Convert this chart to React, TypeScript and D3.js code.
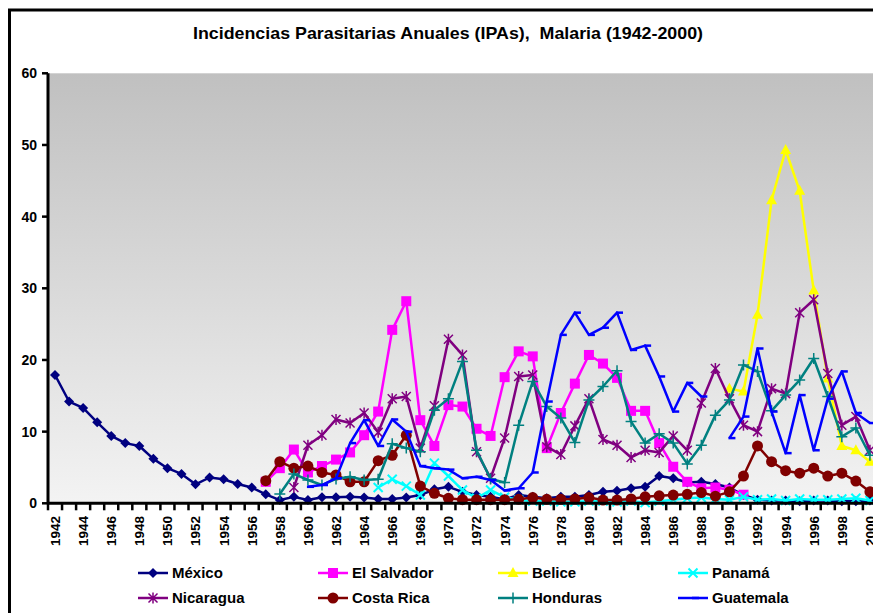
import React from 'react';
import * as d3 from 'd3';

// categories
const years = [
  1942, 1943, 1944, 1945, 1946, 1947, 1948, 1949, 1950, 1951, 1952, 1953, 1954, 1955, 1956,
  1957, 1958, 1959, 1960, 1961, 1962, 1963, 1964, 1965, 1966, 1967, 1968, 1969, 1970, 1971,
  1972, 1973, 1974, 1975, 1976, 1977, 1978, 1979, 1980, 1981, 1982, 1983, 1984, 1985, 1986,
  1987, 1988, 1989, 1990, 1991, 1992, 1993, 1994, 1995, 1996, 1997, 1998, 1999, 2000,
];
const yTicks = [0, 10, 20, 30, 40, 50, 60];

// each series: first year + values (null = no data)
const mexicoStart = 1942;
const mexico = [
  17.9, 14.2, 13.3, 11.3, 9.4, 8.4, 8.0, 6.2, 4.9, 4.1, 2.65, 3.6, 3.35, 2.7, 2.2, 1.25,
  0.45, 0.9, 0.45, 0.85, 0.85, 0.9, 0.8, 0.6, 0.6, 0.8, 1.15, 1.95, 2.3, 1.6, 1.15, 0.9,
  0.55, 1.15, 0.9, 0.7, 0.9, 0.9, 1.15, 1.6, 1.75, 2.1, 2.3, 3.8, 3.5, 2.9, 3.0, 2.7, 2.2,
  1.15, 0.5, 0.4, 0.4, 0.3, 0.4, 0.4, 0.3, 0.3, 0.4,
];
const elSalvadorStart = 1957;
const elSalvador = [
  3.0, 4.9, 7.5, 4.3, 5.2, 6.1, 7.1, 9.5, 12.8, 24.2, 28.2, 11.6, 8.0, 13.7, 13.5, 10.4,
  9.4, 17.6, 21.2, 20.5, 7.7, 12.6, 16.7, 20.7, 19.5, 17.5, 12.9, 12.9, 8.4, 5.1, 3.0, 2.1,
  2.2, 1.9, 1.2,
];
const beliceStart = 1990;
const belice = [16.0, 15.6, 26.3, 42.3, 49.3, 43.6, 29.7, 17.4, 8.0, 7.4, 5.8];
const panamaStart = 1965;
const panama = [
  2.2, 3.35, 2.4, 1.15, 5.6, 3.8, 1.85, 0.7, 1.85, 0.85, 0.5, 0.3, 0.3, 0.2, 0.2, 0.3, 0.3,
  0.2, 0.3, 0.1, 0.3, 0.5, 0.7, 0.8, 0.6, 0.5, 0.9, 0.5, 0.6, 0.4, 0.6, 0.5, 0.5, 0.6, 0.7, 0.4,
];
const nicaraguaStart = 1959;
const nicaragua = [
  2.2, 8.1, 9.5, 11.7, 11.2, 12.6, 9.9, 14.6, 14.9, 7.7, 13.6, 22.9, 20.7, 7.2, 3.5, 9.1,
  17.7, 17.9, 7.9, 6.8, 10.8, 14.6, 8.9, 8.1, 6.4, 7.4, 7.1, 9.4, 7.4, 14.0, 18.8, 14.6,
  10.9, 10.0, 16.0, 15.3, 26.6, 28.4, 18.1, 10.9, 12.1, 7.4,
];
const costaRicaStart = 1957;
const costaRica = [
  3.15, 5.8, 4.9, 5.2, 4.3, 3.95, 3.0, 3.0, 5.95, 6.7, 9.5, 2.4, 1.4, 0.7, 0.5, 0.5, 0.5,
  0.5, 0.55, 0.8, 0.55, 0.55, 0.6, 0.8, 0.45, 0.45, 0.6, 0.9, 1.05, 1.15, 1.25, 1.5, 1.0,
  1.6, 3.8, 8.0, 5.8, 4.55, 4.2, 4.9, 3.8, 4.2, 3.1, 1.6,
];
const hondurasStart = 1958;
const honduras = [
  1.3, 4.1, 3.25, 2.55, 3.4, 3.7, 3.25, 3.35, 8.3, 7.7, 7.2, 13.0, 14.6, 19.8, 7.4, 3.4,
  2.9, 10.9, 17.0, 13.5, 11.9, 8.5, 14.4, 16.3, 18.5, 11.4, 8.4, 9.7, 8.4, 5.5, 8.1, 12.3,
  14.4, 19.3, 18.4, 12.9, 15.1, 17.2, 20.2, 14.9, 9.3, 10.5, 6.7,
];
const guatemalaStart = 1960;
const guatemala = [
  2.3, 2.55, 3.5, 8.4, 11.6, 8.0, 11.7, 10.0, 5.2, 4.9, 4.7, 3.5, 3.7, 3.25, 1.8, 2.1, 4.3,
  14.2, 23.5, 26.6, 23.5, 24.5, 26.6, 21.4, 22.0, 17.7, 12.8, 16.8, 14.9, null, 9.1, 12.1,
  21.6, 12.8, 7.0, 15.1, 7.4, 14.6, 18.4, 12.6, 11.2,
];

const series = [
  { name: 'México', color: '#000080', marker: 'diamond', start: mexicoStart, values: mexico },
  { name: 'El Salvador', color: '#FF00FF', marker: 'square', start: elSalvadorStart, values: elSalvador },
  { name: 'Belice', color: '#FFFF00', marker: 'triangle', start: beliceStart, values: belice },
  { name: 'Panamá', color: '#00FFFF', marker: 'x', start: panamaStart, values: panama },
  { name: 'Nicaragua', color: '#800080', marker: 'star', start: nicaraguaStart, values: nicaragua },
  { name: 'Costa Rica', color: '#800000', marker: 'circle', start: costaRicaStart, values: costaRica },
  { name: 'Honduras', color: '#008080', marker: 'plus', start: hondurasStart, values: honduras },
  { name: 'Guatemala', color: '#0000FF', marker: 'dash', start: guatemalaStart, values: guatemala },
];

const font = '"Liberation Sans", Arial, sans-serif';

function Marker({ type, cx, cy, color }: { type: string; cx: number; cy: number; color: string }) {
  const t = `translate(${cx},${cy})`;
  switch (type) {
    case 'diamond':
      return <path transform={t} d="M0,-5L5,0L0,5L-5,0Z" fill={color} />;
    case 'square':
      return <rect transform={t} x={-5} y={-5} width={10} height={10} fill={color} />;
    case 'triangle':
      return <path transform={t} d="M0,-6L5.5,4L-5.5,4Z" fill={color} />;
    case 'x':
      return <path transform={t} d="M-4.5,-4.5L4.5,4.5M-4.5,4.5L4.5,-4.5" stroke={color} strokeWidth={2} />;
    case 'star':
      return <path transform={t} d="M-4.5,-4.5L4.5,4.5M-4.5,4.5L4.5,-4.5M0,-5.5L0,5.5" stroke={color} strokeWidth={1.5} />;
    case 'circle':
      return <circle cx={cx} cy={cy} r={5.5} fill={color} />;
    case 'plus':
      return <path transform={t} d="M-5.5,0L5.5,0M0,-5.5L0,5.5" stroke={color} strokeWidth={1.5} />;
    case 'dash':
      return <path transform={t} d="M-1,0L6,0" stroke={color} strokeWidth={2.5} />;
    default:
      return null;
  }
}

export default function App() {
  const W = 873;
  const H = 613;
  const left = 48;
  const top = 73.3;
  const bottom = 503.3;
  const step = 14.05;

  const x = d3.scalePoint<number>().domain(years).range([left, left + years.length * step]).padding(0.5);
  const y = d3.scaleLinear().domain([0, 60]).range([bottom, top]);

  const line = d3
    .line<{ year: number; v: number | null }>()
    .defined((d) => d.v != null)
    .x((d) => x(d.year) as number)
    .y((d) => y(d.v as number));

  const legendX = [138, 318, 498, 678];
  const legendY = [573, 598];

  return (
    <svg width={W} height={H} style={{ position: 'absolute', left: 0, top: 0 }} fontFamily={font}>
      <defs>
        <linearGradient id="bg" x1="0" y1="0" x2="0" y2="1">
          <stop offset="0" stopColor="#c0c0c0" />
          <stop offset="1" stopColor="#f3f3f3" />
        </linearGradient>
      </defs>
      <rect width={W} height={H} fill="#fff" />
      <rect x={9.5} y={10} width={W + 20} height={H + 20} fill="none" stroke="#000" strokeWidth={3} />

      <text
        x={193}
        y={39}
        fontSize={17}
        fontWeight="bold"
        textLength={510}
        lengthAdjust="spacingAndGlyphs"
        style={{ whiteSpace: 'pre' }}
      >
        {'Incidencias Parasitarias Anuales (IPAs),  Malaria (1942-2000)'}
      </text>

      <rect x={left} y={top} width={W - left + 10} height={bottom - top} fill="url(#bg)" />

      {/* y axis */}
      {yTicks.map((t) => (
        <g key={t}>
          <line x1={42} x2={left} y1={y(t)} y2={y(t)} stroke="#000" strokeWidth={2.5} />
          <text x={37} y={y(t) + 5} textAnchor="end" fontSize={14} fontWeight="bold">
            {t}
          </text>
        </g>
      ))}

      {/* x axis ticks & labels */}
      {years.map((yr) => (
        <line
          key={yr}
          x1={(x(yr) as number) - step / 2}
          x2={(x(yr) as number) - step / 2}
          y1={bottom}
          y2={bottom + 7}
          stroke="#000"
          strokeWidth={2.5}
        />
      ))}
      {years
        .filter((yr) => yr % 2 === 0)
        .map((yr) => (
          <text
            key={yr}
            transform={`translate(${x(yr)},516) rotate(-90)`}
            textAnchor="end"
            dy="0.36em"
            fontSize={13.5}
            fontWeight="bold"
          >
            {yr}
          </text>
        ))}

      {/* series */}
      {series.map((s) => {
        const pts = s.values.map((v, i) => ({ year: s.start + i, v }));
        return (
          <g key={s.name}>
            <path d={line(pts) || ''} fill="none" stroke={s.color} strokeWidth={2.5} strokeLinejoin="round" />
            {pts
              .filter((p) => p.v != null)
              .map((p) => (
                <Marker key={p.year} type={s.marker} cx={x(p.year) as number} cy={y(p.v as number)} color={s.color} />
              ))}
          </g>
        );
      })}

      <line x1={left} x2={left} y1={top} y2={bottom + 1} stroke="#000" strokeWidth={3} />
      <line x1={left - 1} x2={W + 10} y1={bottom} y2={bottom} stroke="#000" strokeWidth={3} />

      {/* legend */}
      {series.map((s, i) => {
        const lx = legendX[i % 4];
        const ly = legendY[Math.floor(i / 4)];
        return (
          <g key={s.name}>
            <line x1={lx} x2={lx + 30} y1={ly} y2={ly} stroke={s.color} strokeWidth={2.5} />
            <Marker type={s.marker} cx={lx + 15} cy={ly} color={s.color} />
            <text x={lx + 34} y={ly + 5} fontSize={15} fontWeight="bold">
              {s.name}
            </text>
          </g>
        );
      })}
    </svg>
  );
}
